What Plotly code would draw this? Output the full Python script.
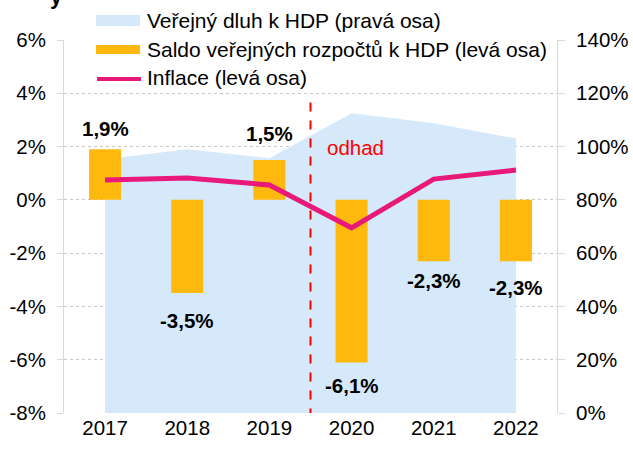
import plotly.graph_objects as go

years = [2017, 2018, 2019, 2020, 2021, 2022]
year_labels = ["2017", "2018", "2019", "2020", "2021", "2022"]
debt = [95.2, 99.0, 95.6, 112.5, 108.8, 103.0]          # right axis, % of GDP
balance = [1.9, -3.5, 1.5, -6.1, -2.3, -2.3]            # left axis, %
inflation = [0.75, 0.82, 0.56, -1.05, 0.78, 1.12]       # left axis, %
balance_labels = ["1,9%", "-3,5%", "1,5%", "-6,1%", "-2,3%", "-2,3%"]
left_ticks = [-8, -6, -4, -2, 0, 2, 4, 6]
left_tick_labels = ["-8%", "-6%", "-4%", "-2%", "0%", "2%", "4%", "6%"]
right_ticks = [0, 20, 40, 60, 80, 100, 120, 140]
right_tick_labels = ["0%", "20%", "40%", "60%", "80%", "100%", "120%", "140%"]
legend_names = ["Veřejný dluh k HDP (pravá osa)",
                "Saldo veřejných rozpočtů k HDP (levá osa)",
                "Inflace (levá osa)"]
forecast_label = "odhad"

C_DEBT = "#D5E9FA"
C_BAL = "#FFB80D"
C_INF = "#E8197A"
FONT = "Liberation Sans, Arial, sans-serif"
FS = 20.5

# plot area in pixels
L, R, T, B = 64, 557, 40, 413
W, H = 633, 450

def px(x):
    return (x - L) / (R - L)

def py(y):
    return (B - y) / (B - T)

fig = go.Figure()
# debt area on the base (right-side) axis so it sits beneath everything else
fig.add_trace(go.Scatter(x=years, y=debt, yaxis="y", mode="lines",
                         line=dict(width=0, color=C_DEBT), fill="tozeroy",
                         fillcolor=C_DEBT, showlegend=False, hoverinfo="skip"))
fig.add_trace(go.Bar(x=years, y=balance, yaxis="y2", width=0.39,
                     marker=dict(color=C_BAL, line=dict(width=0)), showlegend=False))
fig.add_trace(go.Scatter(x=years, y=inflation, yaxis="y2", mode="lines",
                         line=dict(color=C_INF, width=5), showlegend=False))

# bar value labels (style: pixel gap between bar end and label)
label_gap = [7, 14, 13, 10, 6, 13]
for x, v, t, g in zip(years, balance, balance_labels, label_gap):
    fig.add_annotation(x=x, y=v, xref="x", yref="y2", text=f"<b>{t}</b>", showarrow=False,
                       yanchor="bottom" if v >= 0 else "top",
                       yshift=g if v >= 0 else -g,
                       font=dict(size=FS, color="#000000", family=FONT))

# forecast divider
fig.add_shape(type="line", xref="x", yref="y2", x0=2019.5, x1=2019.5, y0=3.65, y1=-8,
              line=dict(color="#FF0000", width=2, dash="dash"))
fig.add_annotation(x=2020.05, y=1.95, xref="x", yref="y2", text=forecast_label, showarrow=False,
                   font=dict(size=FS, color="#FF0000", family=FONT))

# manual legend
fig.add_shape(type="rect", xref="paper", yref="paper", x0=px(96), x1=px(140),
              y0=py(26), y1=py(15), fillcolor=C_DEBT, line=dict(width=0))
fig.add_shape(type="rect", xref="paper", yref="paper", x0=px(96), x1=px(140),
              y0=py(54), y1=py(45), fillcolor=C_BAL, line=dict(width=0))
fig.add_shape(type="line", xref="paper", yref="paper", x0=px(97), x1=px(141),
              y0=py(79), y1=py(79), line=dict(color=C_INF, width=4))
for name, yc in zip(legend_names, [21, 49.5, 78]):
    fig.add_annotation(xref="paper", yref="paper", x=px(145), y=py(yc), text=name,
                       showarrow=False, xanchor="left", yanchor="middle",
                       font=dict(size=21, color="#000000", family=FONT))

# clipped title fragment (only the descender is visible in the reference)
fig.add_annotation(xref="paper", yref="paper", x=px(56), y=py(11), text="<b>y</b>",
                   showarrow=False, xanchor="center", yanchor="bottom",
                   font=dict(size=22, color="#000000", family=FONT))

fig.update_layout(
    width=W, height=H,
    margin=dict(l=L, r=W - R, t=T, b=H - B, pad=0, autoexpand=False),
    paper_bgcolor="white", plot_bgcolor="white",
    font=dict(family=FONT, size=FS, color="#000000"),
    xaxis=dict(tickmode="array", tickvals=years, ticktext=year_labels,
               range=[2016.5, 2022.5], showgrid=False, zeroline=False,
               showline=False, ticks="", tickfont=dict(size=FS)),
    yaxis=dict(range=[0, 140], tickmode="array", tickvals=right_ticks,
               ticktext=right_tick_labels, side="right",
               showgrid=False, zeroline=False, showline=True, linecolor="#D9D9D9",
               linewidth=1, ticks="outside", ticklen=7, tickcolor="#D9D9D9",
               ticklabelstandoff=7, tickfont=dict(size=FS)),
    yaxis2=dict(range=[-8, 6], tickmode="array", tickvals=left_ticks,
                ticktext=left_tick_labels, overlaying="y", side="left",
                showgrid=True, gridcolor="#C8C8C8", griddash="dot", gridwidth=1,
                zeroline=False, showline=True, linecolor="#D9D9D9", linewidth=1,
                ticks="outside", ticklen=6, tickcolor="#D9D9D9",
                ticklabelstandoff=7, tickfont=dict(size=FS)),
)

fig.write_html("out.html", config={"displayModeBar": False},
               post_script="document.body.style.margin='0';")
